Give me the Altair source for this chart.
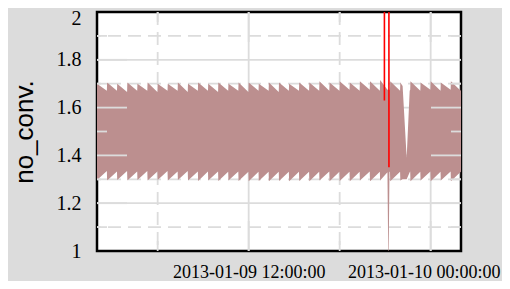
import altair as alt
import pandas as pd

# --- data -----------------------------------------------------------------
tooth_start = [
    "2013-01-09T02:00:00", "2013-01-09T02:40:00", "2013-01-09T03:20:00", "2013-01-09T04:00:00",
    "2013-01-09T04:40:00", "2013-01-09T05:20:00", "2013-01-09T06:00:00", "2013-01-09T06:40:00",
    "2013-01-09T07:20:00", "2013-01-09T08:00:00", "2013-01-09T08:40:00", "2013-01-09T09:20:00",
    "2013-01-09T10:00:00", "2013-01-09T10:40:00", "2013-01-09T11:20:00", "2013-01-09T12:00:00",
    "2013-01-09T12:40:00", "2013-01-09T13:20:00", "2013-01-09T14:00:00", "2013-01-09T14:40:00",
    "2013-01-09T15:20:00", "2013-01-09T16:00:00", "2013-01-09T16:40:00", "2013-01-09T17:20:00",
    "2013-01-09T18:00:00", "2013-01-09T18:40:00", "2013-01-09T19:20:00", "2013-01-09T20:00:00",
    "2013-01-09T20:40:00", "2013-01-09T21:20:00", "2013-01-09T22:00:00", "2013-01-09T22:40:00",
    "2013-01-09T23:20:00", "2013-01-10T00:00:00", "2013-01-10T00:40:00", "2013-01-10T01:20:00",
]
tooth_notch = [
    "2013-01-09T02:39:00", "2013-01-09T03:19:00", "2013-01-09T03:59:00", "2013-01-09T04:39:00",
    "2013-01-09T05:19:00", "2013-01-09T05:59:00", "2013-01-09T06:39:00", "2013-01-09T07:19:00",
    "2013-01-09T07:59:00", "2013-01-09T08:39:00", "2013-01-09T09:19:00", "2013-01-09T09:59:00",
    "2013-01-09T10:39:00", "2013-01-09T11:19:00", "2013-01-09T11:59:00", "2013-01-09T12:39:00",
    "2013-01-09T13:19:00", "2013-01-09T13:59:00", "2013-01-09T14:39:00", "2013-01-09T15:19:00",
    "2013-01-09T15:59:00", "2013-01-09T16:39:00", "2013-01-09T17:19:00", "2013-01-09T17:59:00",
    "2013-01-09T18:39:00", "2013-01-09T19:19:00", "2013-01-09T19:59:00", "2013-01-09T20:39:00",
    "2013-01-09T21:19:00", "2013-01-09T21:59:00", "2013-01-09T22:39:00", "2013-01-09T23:19:00",
    "2013-01-09T23:59:00", "2013-01-10T00:39:00", "2013-01-10T01:19:00", "2013-01-10T01:59:00",
]
upper_peak = [1.700, 1.705, 1.700, 1.705, 1.700, 1.705, 1.700, 1.700, 1.705, 1.700, 1.705, 1.700,
              1.705, 1.700, 1.705, 1.705, 1.700, 1.705, 1.705, 1.700, 1.705, 1.705, 1.710, 1.705,
              1.710, 1.705, 1.710, 1.710, 1.715, 1.710, 1.705, 1.710, 1.705, 1.710, 1.705, 1.710]
upper_notch = [1.670, 1.670, 1.665, 1.670, 1.670, 1.665, 1.670, 1.670, 1.665, 1.670, 1.670, 1.665,
               1.670, 1.670, 1.665, 1.670, 1.670, 1.665, 1.670, 1.670, 1.670, 1.670, 1.670, 1.670,
               1.675, 1.670, 1.675, 1.670, 1.675, 1.670, 1.675, 1.670, 1.675, 1.670, 1.675, 1.670]
lower_peak = [1.297, 1.295, 1.297, 1.295, 1.297, 1.295, 1.297, 1.295, 1.297, 1.295, 1.293, 1.295,
              1.293, 1.295, 1.293, 1.292, 1.293, 1.292, 1.293, 1.292, 1.293, 1.292, 1.295, 1.292,
              1.293, 1.292, 1.295, 1.292, 1.295, 1.292, 1.295, 1.292, 1.295, 1.292, 1.295, 1.292]
lower_notch = [1.335, 1.333, 1.335, 1.333, 1.335, 1.333, 1.335, 1.333, 1.335, 1.333, 1.333, 1.333,
               1.332, 1.333, 1.332, 1.332, 1.332, 1.332, 1.332, 1.332, 1.332, 1.332, 1.333, 1.332,
               1.332, 1.332, 1.333, 1.332, 1.333, 1.332, 1.333, 1.332, 1.333, 1.332, 1.333, 1.332]
end_time = "2013-01-10T02:00:00"
end_upper, end_lower = 1.705, 1.295

# anomalies (dip to 1.0 and gap wedge)
anom_times = ["2013-01-09T21:09:00", "2013-01-09T21:12:00", "2013-01-09T21:14:00",
              "2013-01-09T21:17:00",
              "2013-01-09T22:09:00", "2013-01-09T22:25:00", "2013-01-09T22:37:00"]
anom_upper = [1.675, 1.675, 1.675, 1.675, 1.690, 1.390, 1.670]
anom_lower = [1.330, 1.000, 1.000, 1.330, 1.300, 1.300, 1.330]

# red series: spike that shoots far above the range
red_times = ["2013-01-09T20:57:00", "2013-01-09T20:58:00",
             "2013-01-09T21:13:00", "2013-01-09T21:15:00"]
red_values = [1.63, 9.0, 9.0, 1.35]

y_major = [1.2, 1.4, 1.6, 1.8]
y_minor = [1.1, 1.3, 1.5, 1.7, 1.9]
x_major = ["2013-01-09T12:00:00", "2013-01-10T00:00:00"]
x_minor = ["2013-01-09T06:00:00", "2013-01-09T18:00:00"]
y_ticks = [1, 1.2, 1.4, 1.6, 1.8, 2]

# --- tables ------------------------------------------------------------
rows = []
for i in range(len(tooth_start)):
    rows.append((tooth_start[i], upper_peak[i], lower_peak[i]))
    rows.append((tooth_notch[i], upper_notch[i], lower_notch[i]))
rows.append((end_time, end_upper, end_lower))
for t, u, l in zip(anom_times, anom_upper, anom_lower):
    rows.append((t, u, l))
band = pd.DataFrame(rows, columns=["t", "hi", "lo"]).sort_values("t").reset_index(drop=True)
red = pd.DataFrame({"t": red_times, "v": red_values})

GRID = "#DCDCDC"
W, H = 364, 239

xscale = alt.Scale(domain=[alt.DateTime(year=2013, month=1, date=9, hours=2),
                           alt.DateTime(year=2013, month=1, date=10, hours=2)])
yscale = alt.Scale(domain=[1, 2], nice=False, zero=False)

hmaj = alt.Chart(pd.DataFrame({"v": y_major})).mark_rule(color=GRID, strokeWidth=1.8).encode(
    y=alt.Y("v:Q", scale=yscale))
hmin = alt.Chart(pd.DataFrame({"v": y_minor})).mark_rule(color=GRID, strokeWidth=1.8, strokeDash=[13, 7]).encode(
    y=alt.Y("v:Q", scale=yscale))
vmaj = alt.Chart(pd.DataFrame({"t": x_major})).mark_rule(color=GRID, strokeWidth=1.8).encode(
    x=alt.X("t:T", scale=xscale))
vmin = alt.Chart(pd.DataFrame({"t": x_minor})).mark_rule(color=GRID, strokeWidth=1.8, strokeDash=[13, 7]).encode(
    x=alt.X("t:T", scale=xscale))

area = alt.Chart(band).mark_area(color="#BC8F8F", opacity=1, clip=True).encode(
    x=alt.X("t:T", scale=xscale, axis=alt.Axis(
        values=[alt.DateTime(year=2013, month=1, date=9, hours=12),
                alt.DateTime(year=2013, month=1, date=10, hours=0)],
        format="%Y-%m-%d %H:%M:%S", title=None,
        labelFont="Liberation Serif", labelFontSize=18, labelPadding=12,
        labelOffset={"condition": {"test": "datum.value > datetime(2013, 0, 9, 18)", "value": -7}, "value": 0})),
    y=alt.Y("lo:Q", scale=yscale, axis=alt.Axis(
        values=y_ticks, format=".1~f", title="no_conv.",
        labelFont="Liberation Serif", labelFontSize=20, labelPadding=16,
        labelOffset={"condition": {"test": "datum.value >= 2", "value": 6}, "value": 0},
        titleFont="Liberation Sans", titleFontSize=26, titleFontWeight="normal", titleColor="black",
        titleAngle=270, titleX=-65, titleY=119.5, titleBaseline="alphabetic", titleAlign="center")),
    y2="hi:Q",
)

redline = alt.Chart(red).mark_line(color="#FF0000", strokeWidth=1.6, clip=True).encode(
    x=alt.X("t:T", scale=xscale),
    y=alt.Y("v:Q", scale=yscale),
)

def hticks(vals, length):
    d = pd.DataFrame({"v": vals})
    left = alt.Chart(d).mark_rule(color=GRID, strokeWidth=1.8).encode(
        y=alt.Y("v:Q", scale=yscale), x=alt.value(0), x2=alt.value(length))
    right = alt.Chart(d).mark_rule(color=GRID, strokeWidth=1.8).encode(
        y=alt.Y("v:Q", scale=yscale), x=alt.value(W - length), x2=alt.value(W))
    return [left, right]

def vticks(vals, length):
    d = pd.DataFrame({"t": vals})
    bottom = alt.Chart(d).mark_rule(color=GRID, strokeWidth=1.8).encode(
        x=alt.X("t:T", scale=xscale), y=alt.value(H - length), y2=alt.value(H))
    top = alt.Chart(d).mark_rule(color=GRID, strokeWidth=1.8).encode(
        x=alt.X("t:T", scale=xscale), y=alt.value(0), y2=alt.value(length))
    return [bottom, top]

chart_layers = [hmaj, hmin, vmaj, vmin, area, redline]
chart_layers += hticks(y_major, 30) + hticks(y_minor, 10)
chart_layers += vticks(x_major, 30) + vticks(x_minor, 10)

chart = alt.layer(*chart_layers).properties(
    width=W, height=H,
    autosize=alt.AutoSizeParams(type="none"),
    padding={"left": 89, "top": 4, "right": 41, "bottom": 30},
    background="#DCDCDC",
).configure_view(
    fill="white", stroke="black", strokeWidth=2.5
).configure_axis(
    labelFont="Liberation Serif", labelColor="black", ticks=False, domain=False, grid=False,
    labelOverlap=False, labelFlush=False, labelFontWeight="normal",
).configure_axisY(labelFontSize=20, labelFont="Liberation Serif").configure_axisX(labelFontSize=18)

chart.save("out.html", embed_options={"renderer": "svg", "actions": False})
